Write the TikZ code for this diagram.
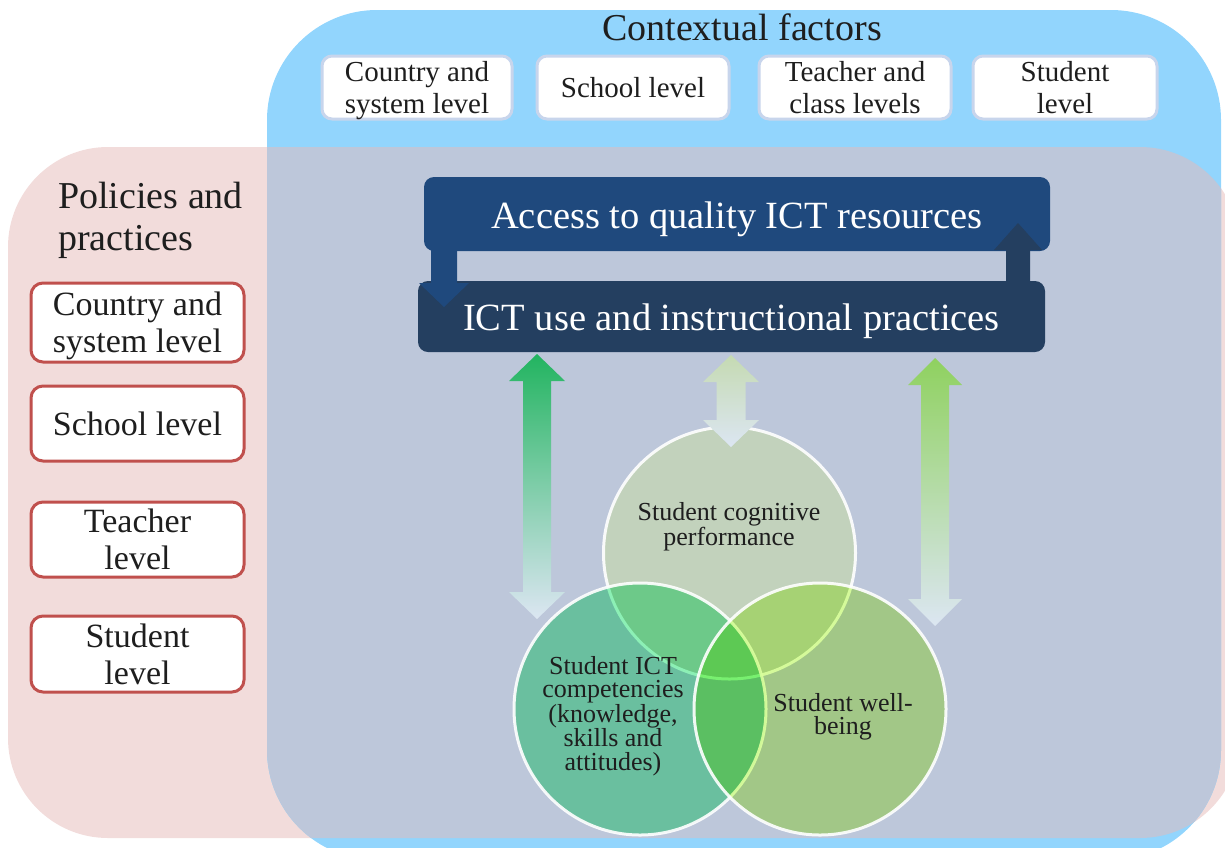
\documentclass[tikz,border=0pt]{standalone}
\usepackage{fontspec}
\setmainfont{Liberation Serif}
\definecolor{pinkbg}{HTML}{F2DCDB}
\definecolor{bluebg}{HTML}{92D5FD}
\definecolor{greybg}{HTML}{BDC7DA}
\definecolor{navyA}{HTML}{1F497D}
\definecolor{navyB}{HTML}{243F60}
\definecolor{redline}{HTML}{C0504D}
\definecolor{ctxline}{HTML}{C8D5EC}
\definecolor{txt}{HTML}{1E1E1E}
\definecolor{cTop}{HTML}{C2D2BC}
\definecolor{cLeft}{HTML}{90F5BA}
\definecolor{cRight}{HTML}{DBFF9E}
\definecolor{arrLight}{HTML}{DCE6F2}
\definecolor{arrGa}{HTML}{22B460}
\definecolor{arrGb}{HTML}{C5DAB2}
\definecolor{arrGc}{HTML}{8FD15F}
\begin{document}
\begin{tikzpicture}[x=1pt,y=-1pt,
 ctxbox/.style={draw=ctxline, line width=3pt, fill=white, rounded corners=10pt, minimum width=190pt, minimum height=63pt, inner sep=0pt, align=center, text=txt, font=\fontsize{29}{32}\selectfont},
 polbox/.style={draw=redline, line width=3pt, fill=white, rounded corners=12pt, minimum width=213pt, inner sep=0pt, align=center, text=txt, font=\fontsize{34}{37}\selectfont},
 darkbox/.style={rounded corners=10pt, inner sep=0pt, text=white, text height=30pt, text depth=2pt, font=\fontsize{38.5}{40}\selectfont},
 vennfill/.style={circle, minimum size=252pt, inner sep=0pt},
 vennline/.style={draw=white, line width=3pt, draw opacity=0.9},
 venntext/.style={align=center, text=txt, font=\fontsize{26}{23.5}\selectfont, inner sep=0pt},
 dbl/.style n args={6}{insert path={(#1,#2) -- (#1+#5,#2+#6) -- (#1+#4,#2+#6) -- (#1+#4,#3-#6) -- (#1+#5,#3-#6) -- (#1,#3) -- (#1-#5,#3-#6) -- (#1-#4,#3-#6) -- (#1-#4,#2+#6) -- (#1-#5,#2+#6) -- cycle}},
 singl/.style n args={6}{insert path={(#1-#4,#2) -- (#1+#4,#2) -- (#1+#4,#6) -- (#1+#5,#6) -- (#1,#3) -- (#1-#5,#6) -- (#1-#4,#6) -- cycle}},
]
\useasboundingbox (0,0) rectangle (1225,847);
% backgrounds
\fill[pinkbg, rounded corners=100pt] (8,147) rectangle (1240,838);
\fill[bluebg, rounded corners=110pt] (267,10) rectangle (1221,860);
\begin{scope}
\clip[rounded corners=100pt] (8,147) rectangle (1240,838);
\fill[greybg, rounded corners=110pt] (267,10) rectangle (1221,860);
\end{scope}
% contextual factors
\node[inner sep=0pt, text=txt, font=\fontsize{38}{40}\selectfont] (ctx) at (742,27) {Contextual factors};
\node[ctxbox] (c1) at (417,87.5) {Country and\\\smash{system level}};
\node[ctxbox, minimum width=192pt] (c2) at (633,87.5) {School level};
\node[ctxbox, minimum width=192pt] (c3) at (855,87.5) {Teacher and\\class levels};
\node[ctxbox, minimum width=184pt] (c4) at (1065,87.5) {Student\\level};
% policies
\node[anchor=north west, align=left, font=\fontsize{38}{42}\selectfont, inner sep=0pt, text=txt] (pol) at (58,182) {Policies and\\practices};
\node[polbox, minimum height=79pt] (p1) at (137.5,322.5) {Country and\\\smash{system level}};
\node[polbox, minimum height=75pt] (p2) at (137.5,423.5) {School level};
\node[polbox, minimum height=75pt] (p3) at (137.5,539.5) {Teacher\\level};
\node[polbox, minimum height=76pt] (p4) at (137.5,654) {Student\\level};
% dark boxes
\node[darkbox, fill=navyA, minimum width=626pt, minimum height=74pt] (acc) at (737,214) {Access to quality ICT resources};
\node[darkbox, fill=navyB, minimum width=627pt, minimum height=71pt] (use) at (731.5,316.5) {ICT use and instructional practices};
\fill[navyA, singl={444}{250}{307}{13}{25}{283}];
\fill[navyB, singl={1018}{282}{223}{12}{24}{250}];
% venn
\node[vennfill, fill=cTop] (vtop) at (729.5,553) {};
\path[vennline] (vtop.center) circle[radius=126pt];
\node[vennfill, fill=cLeft, blend mode=multiply] (vleft) at (640,709) {};
\path[vennline] (vleft.center) circle[radius=126pt];
\node[vennfill, fill=cRight, blend mode=multiply] (vright) at (820,709) {};
\path[vennline] (vright.center) circle[radius=126pt];
\node[venntext] (ttop) at (729,527) {Student cognitive\\performance};
\node[venntext] (tleft) at (613,716) {Student ICT\\competencies\\(knowledge,\\skills and\\attitudes)};
\node[venntext] (tright) at (843,717) {Student well-\\being};
% gradient arrows
\shade[top color=arrGa, bottom color=arrLight, dbl={537}{354}{619}{14}{28}{27}];
\shade[top color=arrGb, bottom color=arrLight, dbl={731}{355}{447}{14.5}{28}{27}];
\shade[top color=arrGc, bottom color=arrLight, dbl={935}{358}{626}{14}{27}{27}];
\end{tikzpicture}
\end{document}
